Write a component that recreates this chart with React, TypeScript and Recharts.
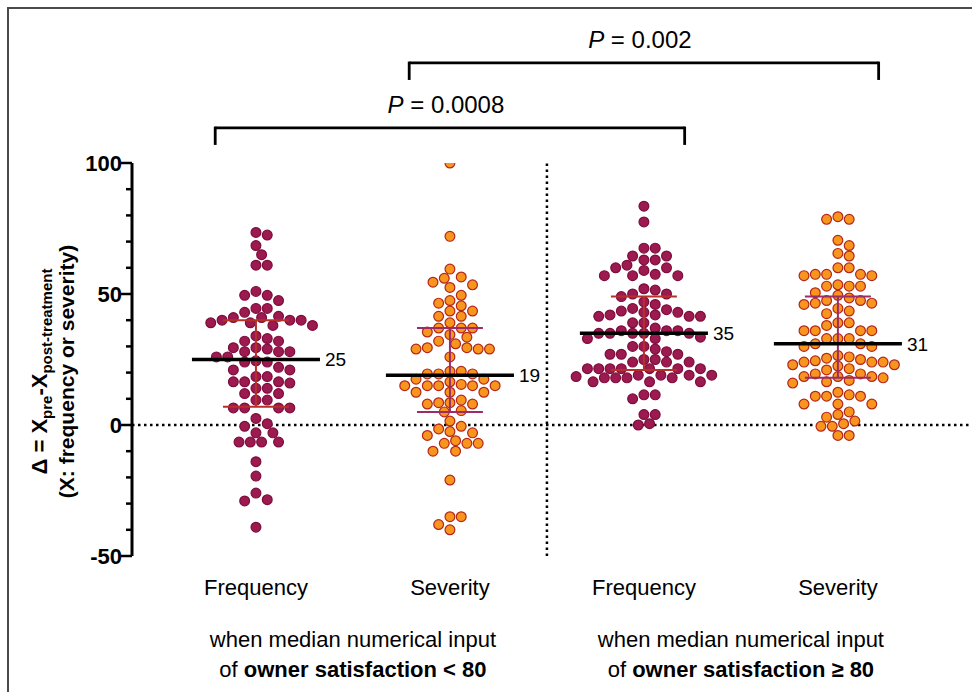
import React from 'react';
import { ComposedChart, Scatter, XAxis, YAxis, ReferenceLine } from 'recharts';

// categories along the x axis, one dot cloud each
const CATEGORIES = ['Frequency', 'Severity', 'Frequency', 'Severity'];
const GROUP_TITLE = 'when median numerical input';
const GROUP_CONDITION = ['owner satisfaction < 80', 'owner satisfaction \u2265 80'];

// Δ values, per cloud
const FREQ_LOW = [
  73.5, 72.5, 68.5, 65, 61, 61, 51, 49.5, 49.5, 47.5, 44.5, 44.5, 43, 41.5, 41, 41, 40, 40, 40, 39, 39, 38, 38,
  34, 33, 32, 32, 29.5, 29.5, 29, 28, 28, 28, 26, 26, 24.5, 24, 24, 22, 21, 21, 18.5, 18.5, 16.5, 16.5, 16.5, 16,
  14, 14, 12, 12, 9.5, 9.5, 6.5, 6.5, 6.5, 6.5, 2.5, 0.5, -0.5, -3, -3, -6.5, -6.5, -6.5, -6.5, -14, -19.5, -26,
  -28.5, -29, -39,
];
const SEV_LOW = [
  100, 72, 59.5, 56.5, 56, 54.5, 53.5, 52.5, 49.5, 47.5, 46.5, 45.5, 43.5, 43.5, 41.5, 41.5, 39, 37, 37, 37, 35.5,
  34.5, 33.5, 32, 31, 29.5, 29.5, 29, 29, 29, 26, 20.5, 20.5, 19.5, 19.5, 19.5, 17.5, 17.5, 16.5, 15.5, 15, 15, 15,
  15, 15, 12.5, 12.5, 12.5, 9.5, 8.5, 8.5, 8, 8, 5.5, 5, 1.5, -0.5, -1.5, -2.5, -3, -4, -6, -7, -7, -7, -10, -10,
  -21, -35, -35, -38, -40,
];
const FREQ_HIGH = [
  83.5, 77.5, 67.5, 67.5, 64.5, 64.5, 63, 63, 61, 60, 60, 59, 57.5, 57, 57, 57, 52, 51.5, 50, 50, 49, 47, 46, 44.5,
  44, 43.5, 43, 43, 42, 42, 41.5, 41.5, 41.5, 39, 39, 37, 36, 36, 36, 35, 35, 35, 35, 35, 33.5, 33, 33, 30, 30, 29,
  28, 27, 27, 27, 25, 25, 24, 24, 24, 21.5, 21.5, 21.5, 21.5, 21.5, 21.5, 21.5, 19, 19, 19, 19, 18.5, 18, 18, 18, 18,
  16.5, 16.5, 16.5, 11.5, 11.5, 10, 4, 4, 0.5, 0,
];
const SEV_HIGH = [
  79.5, 78.5, 78.5, 70.5, 68.5, 65.5, 64.5, 60, 60, 57.5, 57.5, 57.5, 57, 57, 53.5, 53, 53, 53, 50.5, 49.5, 48.5,
  47.5, 47.5, 46.5, 46.5, 46, 44.5, 43.5, 42.5, 39, 39, 38, 36, 36, 36, 36, 33, 33, 33, 31, 31, 30, 30, 26.5, 26,
  25.5, 25, 24.5, 24, 24, 24, 23, 23, 22.5, 21.5, 21, 19.5, 19.5, 18.5, 18.5, 18.5, 18, 17, 16.5, 16, 12.5, 11.5,
  11, 11, 11, 8, 8, 8, 5, 4, 3, 1.5, 0.5, -0.5, -0.5, -4, -4,
];

const MEDIANS = [25, 19, 35, 31];
const Q1 = [7, 5, 21, 18];
const Q3 = [40, 37, 49, 49];

const COMPARISONS = [
  { from: 0, to: 2, p: '0.0008', level: 0 },
  { from: 1, to: 3, p: '0.002', level: 1 },
];

const FONT = '"Liberation Sans", Arial, Helvetica, sans-serif';
const W = 972;
const H = 692;
const TOP = 163;
const AXIS_X = 132;
const X_MIN = -0.639;
const X_MAX = 3.681;
const Y_MIN = -50;
const Y_MAX = 100;
const PLOT_H = 393;
const PX_PER_Y = PLOT_H / (Y_MAX - Y_MIN);
const PX_PER_X = (W - 2 - AXIS_X) / (X_MAX - X_MIN);
const DOT_R = 4.9;

const FREQ_FILL = '#9d1a50';
const FREQ_STROKE = '#7d0e3b';
const SEV_FILL = '#f8951d';
const SEV_STROKE = '#b3261c';
const BAR_COLORS = ['#b6302a', '#9c2c68', '#b6302a', '#9c2c68'];

// simple beeswarm: walk points from top, nudge sideways until no overlap
function swarm(values: number[], group: number) {
  const step = 5.65;
  const minD = 10;
  const placed: { x: number; y: number }[] = [];
  const out: { x: number; y: number }[] = [];
  [...values].sort((a, b) => b - a).forEach((v) => {
    const py = -v * PX_PER_Y;
    let off = 0;
    for (let k = 0; k < 60; k++) {
      const cand = k === 0 ? 0 : (k % 2 ? 1 : -1) * Math.ceil(k / 2) * step;
      if (placed.every((q) => Math.hypot(q.x - cand, q.y - py) >= minD)) {
        off = cand;
        break;
      }
    }
    placed.push({ x: off, y: py });
    out.push({ x: group + off / PX_PER_X, y: v });
  });
  return out;
}

const clouds = [FREQ_LOW, SEV_LOW, FREQ_HIGH, SEV_HIGH].map((vals, i) => swarm(vals, i));

const dot = (fill: string, stroke: string) => (props: any) =>
  <circle cx={props.cx} cy={props.cy} r={DOT_R} fill={fill} stroke={stroke} strokeWidth={1.2} />;

const YTick = (props: any) => {
  const { x, y, payload } = props;
  const major = payload.value % 50 === 0;
  return (
    <g>
      <line x1={x - (major ? 11 : 6)} x2={x} y1={y} y2={y} stroke="#000" strokeWidth={2.5} />
      {major && (
        <text x={x - 10} y={y} dy="0.36em" textAnchor="end" fontFamily={FONT} fontWeight="bold" fontSize={22} fill="#000">
          {payload.value}
        </text>
      )}
    </g>
  );
};

// category name under each cloud; the first cloud of each pair also carries the pair's caption
const CatTick = (props: any) => {
  const i = props.payload.value;
  const gx = props.x + PX_PER_X / 2;
  return (
    <g fontFamily={FONT} fill="#000">
      <text x={props.x} y={props.y + 39} textAnchor="middle" fontSize={22}>
        {CATEGORIES[i]}
      </text>
      {i % 2 === 0 && (
        <text textAnchor="middle" fontSize={22}>
          <tspan x={gx} y={props.y + 91}>{GROUP_TITLE}</tspan>
          <tspan x={gx} y={props.y + 121}>of </tspan>
          <tspan fontWeight="bold">{GROUP_CONDITION[i / 2]}</tspan>
        </text>
      )}
    </g>
  );
};

const YTitle = (props: any) => {
  const vb = props.viewBox || { y: TOP, height: PLOT_H };
  const cy = vb.y + vb.height / 2 + 12;
  return (
    <g fontFamily={FONT} fontWeight="bold" fill="#000">
      <text x={47} y={cy} transform={`rotate(-90, 47, ${cy})`} textAnchor="middle" fontSize={22}>
        {'\u0394 = X'}
        <tspan fontSize={15} dy={5}>pre</tspan>
        <tspan dy={-5}>-X</tspan>
        <tspan fontSize={15} dy={5}>post-treatment</tspan>
      </text>
      <text x={74} y={cy} transform={`rotate(-90, 74, ${cy})`} textAnchor="middle" fontSize={21}>
        (X: frequency or severity)
      </text>
    </g>
  );
};

const MedianLabel = (text: string) => (props: any) => {
  const vb = props.viewBox;
  return (
    <text x={vb.x + vb.width + 5} y={vb.y} dy="0.36em" fontFamily={FONT} fontSize={19} fill="#000">
      {text}
    </text>
  );
};

const PLabel = (text: string) => (props: any) => {
  const vb = props.viewBox;
  return (
    <text x={vb.x + vb.width / 2 - 4} y={vb.y - 15} textAnchor="middle" fontFamily={FONT} fontSize={24} fill="#000">
      <tspan fontStyle="italic">P</tspan> = {text}
    </text>
  );
};

export default function App() {
  const bracketY = [113.4, 138.2];
  const tipDrop = 6.5;
  return (
    <div style={{ position: 'absolute', left: 0, top: 0, width: W, height: H, background: '#fff' }}>
      <div
        style={{
          position: 'absolute',
          left: 7,
          top: 7,
          width: W - 7,
          height: H - 7,
          borderTop: '2px solid #4a4a4a',
          borderLeft: '2px solid #4a4a4a',
        }}
      />
      <ComposedChart
        width={W}
        height={H}
        margin={{ top: TOP, right: 2, bottom: 0, left: 0 }}
        style={{ position: 'absolute', left: 0, top: 0 }}
      >
        <XAxis
          type="number"
          dataKey="x"
          domain={[X_MIN, X_MAX]}
          ticks={[0, 1, 2, 3]}
          allowDataOverflow
          axisLine={false}
          tickLine={false}
          tickSize={0}
          tickMargin={0}
          height={H - TOP - PLOT_H}
          tick={<CatTick />}
          interval={0}
        />
        <YAxis
          type="number"
          dataKey="y"
          domain={[Y_MIN, Y_MAX]}
          ticks={[-50, -40, -30, -20, -10, 0, 10, 20, 30, 40, 50, 60, 70, 80, 90, 100]}
          allowDataOverflow
          width={AXIS_X}
          axisLine={{ stroke: '#000', strokeWidth: 3 }}
          tickLine={false}
          tickSize={0}
          tickMargin={0}
          tick={<YTick />}
          interval={0}
          label={{ content: <YTitle /> }}
        />
        <ReferenceLine y={0} stroke="#000" strokeWidth={2.5} strokeDasharray="2.5 3.5" />
        <ReferenceLine x={1.5} stroke="#000" strokeWidth={2.5} strokeDasharray="2.5 3.5" />

        {clouds.map((data, i) => (
          <Scatter
            key={`cloud-${i}`}
            data={data}
            dataKey="y"
            isAnimationActive={false}
            shape={i % 2 === 0 ? dot(FREQ_FILL, FREQ_STROKE) : dot(SEV_FILL, SEV_STROKE)}
          />
        ))}

        {MEDIANS.map((m, i) => (
          <ReferenceLine
            key={`q-${i}`}
            segment={[{ x: i, y: Q1[i] }, { x: i, y: Q3[i] }]}
            stroke={BAR_COLORS[i]}
            strokeWidth={2}
            zIndex={1000}
          />
        ))}
        {MEDIANS.map((m, i) => (
          <ReferenceLine
            key={`q1-${i}`}
            segment={[{ x: i - 0.17, y: Q1[i] }, { x: i + 0.17, y: Q1[i] }]}
            stroke={BAR_COLORS[i]}
            strokeWidth={2}
            zIndex={1000}
          />
        ))}
        {MEDIANS.map((m, i) => (
          <ReferenceLine
            key={`q3-${i}`}
            segment={[{ x: i - 0.17, y: Q3[i] }, { x: i + 0.17, y: Q3[i] }]}
            stroke={BAR_COLORS[i]}
            strokeWidth={2}
            zIndex={1000}
          />
        ))}
        {MEDIANS.map((m, i) => (
          <ReferenceLine
            key={`med-${i}`}
            segment={[{ x: i - 0.33, y: m }, { x: i + 0.33, y: m }]}
            stroke="#000"
            strokeWidth={3.5}
            zIndex={1001}
            label={{ content: MedianLabel(String(m)) }}
          />
        ))}

        {COMPARISONS.map((c) => {
          const top = bracketY[c.level];
          const x1 = c.from - 0.21;
          const x2 = c.to + 0.21;
          return [
            <ReferenceLine
              key={`b-${c.p}`}
              segment={[{ x: x1, y: top }, { x: x2, y: top }]}
              ifOverflow="visible"
              stroke="#000"
              strokeWidth={2.8}
              label={{ content: PLabel(c.p) }}
            />,
            <ReferenceLine
              key={`bl-${c.p}`}
              segment={[{ x: x1, y: top + 0.5 }, { x: x1, y: top - tipDrop }]}
              ifOverflow="visible"
              stroke="#000"
              strokeWidth={2.8}
            />,
            <ReferenceLine
              key={`br-${c.p}`}
              segment={[{ x: x2, y: top + 0.5 }, { x: x2, y: top - tipDrop }]}
              ifOverflow="visible"
              stroke="#000"
              strokeWidth={2.8}
            />,
          ];
        })}
      </ComposedChart>
    </div>
  );
}
